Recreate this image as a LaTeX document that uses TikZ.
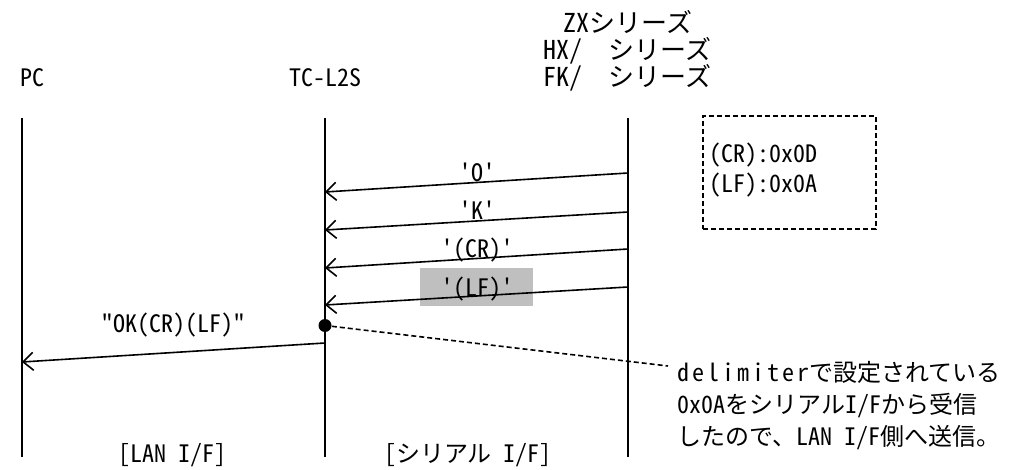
\documentclass[tikz,border=0pt]{standalone}
\usepackage{fontspec}
\setmainfont{Noto Sans CJK JP}[Ligatures=TeXOff, RawFeature=+hwid]
\usetikzlibrary{arrows.meta}
\begin{document}
\begin{tikzpicture}[x=0.5pt,y=-0.5pt,
  lbl/.style={font=\fontsize{12}{14}\selectfont, inner sep=0pt},
  hdr/.style={font=\fontsize{13}{14}\selectfont, inner sep=0pt},
  life/.style={line width=1pt},
  msg/.style={line width=0.8pt, -{Straight Barb[length=5pt,width=9pt,line width=0.8pt]}},
  note/.style={dashed, dash pattern=on 2.5pt off 1.5pt, line width=0.8pt}]
\useasboundingbox (0,0) rectangle (1024,470);
% headers
\node[lbl,anchor=base] (pc) at (32,87) {PC};
\node[lbl,anchor=base] (tc) at (325,87) {TC-L2S};
\node[hdr,anchor=base] (zx1) at (628,33) {ZXシリーズ};
\node[hdr,anchor=base west] (zx2) at (543,60) {HX/\hspace{13pt}シリーズ};
\node[hdr,anchor=base west] (zx3) at (543,87) {FK/\hspace{13pt}シリーズ};
% lifelines
\coordinate (pct) at (22,118); \coordinate (pcb) at (22,457);
\coordinate (tct) at (325,118); \coordinate (tcb) at (325,457);
\coordinate (zxt) at (628,118); \coordinate (zxb) at (628,457);
\draw[life] (pct) -- (pcb);
\draw[life] (tct) -- (tcb);
\draw[life] (zxt) -- (zxb);
% legend box
\node[note, draw, minimum width=173*0.5pt, minimum height=113*0.5pt, inner sep=0pt, anchor=north west] (box) at (702,115) {};
\node[lbl,anchor=base west] (cr) at (709,163) {(CR):0x0D};
\node[lbl,anchor=base west] (lf) at (709,193) {(LF):0x0A};
% messages
\coordinate (s1) at (628,173); \coordinate (e1) at (325,192);
\coordinate (s2) at (628,212); \coordinate (e2) at (325,230);
\coordinate (s3) at (628,249); \coordinate (e3) at (325,268);
\coordinate (s4) at (628,287); \coordinate (e4) at (325,305);
\node[fill=black!25, minimum width=113*0.5pt, minimum height=38*0.5pt, inner sep=0pt] (hl) at (476.5,287) {};
\draw[msg] (s1) -- (e1);
\draw[msg] (s2) -- (e2);
\draw[msg] (s3) -- (e3);
\draw[msg] (s4) -- (e4);
\node[lbl,anchor=base] (m1) at (477,182) {'O'};
\node[lbl,anchor=base] (m2) at (477,220) {'K'};
\node[lbl,anchor=base] (m3) at (477,258) {'(CR)'};
\node[lbl,anchor=base] (m4) at (477,297) {'(LF)'};
% dot and LAN message
\node[circle, fill=black, inner sep=0pt, minimum size=6.5pt] (dot) at (325,325.5) {};
\coordinate (s5) at (325,343); \coordinate (e5) at (22,362);
\draw[msg] (s5) -- (e5);
\node[lbl,anchor=base] (m5) at (173,333) {"OK(CR)(LF)"};
% note
\node[lbl, anchor=base west] (t1) at (677,382) {{\addfontfeature{LetterSpace=12.5}delimiter}で設定されている};
\node[lbl, anchor=base west] (t2) at (677,413.5) {0x0AをシリアルI/Fから受信};
\node[lbl, anchor=base west] (t3) at (677,445) {したので、LAN I/F側へ送信。};
\coordinate (nend) at (668,366);
\draw[note] (dot) -- (nend);
% bottom
\node[lbl,anchor=base] (lan) at (173,463) {[LAN I/F]};
\node[lbl,anchor=base] (ser) at (468,463) {[シリアル I/F]};
\end{tikzpicture}
\end{document}
